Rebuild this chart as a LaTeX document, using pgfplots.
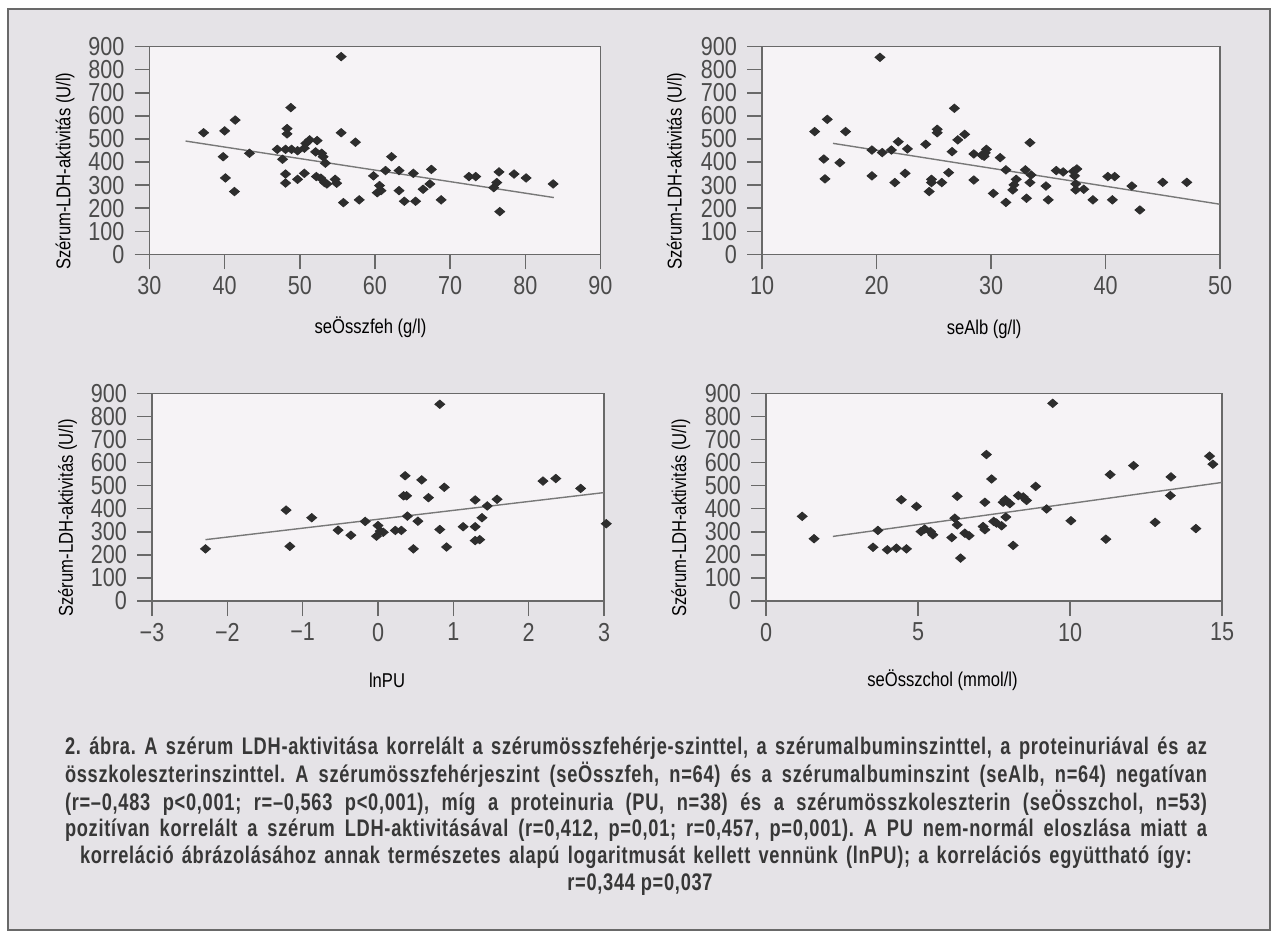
\documentclass[border=0pt]{standalone}
\usepackage{pgfplots}
\pgfplotsset{compat=1.18}
\usepackage{fontspec}
\setmainfont{Liberation Sans}[FakeStretch=0.83]
\newfontfamily\capfont{Liberation Sans}[FakeStretch=0.76, LetterSpace=3]
\definecolor{bgc}{RGB}{229,227,231}
\definecolor{plotbg}{RGB}{246,243,246}
\definecolor{axc}{RGB}{105,105,105}
\definecolor{tickc}{RGB}{75,75,75}
\definecolor{markc}{RGB}{45,45,45}
\definecolor{linec}{RGB}{120,120,120}
\definecolor{capc}{RGB}{55,55,55}
\pgfplotsset{
  panel/.style={
    scale only axis, height=103.8pt,
    ymin=0, ymax=900, ytick={0,100,...,900},
    axis background/.style={fill=plotbg},
    axis line style={draw=axc, line width=0.7pt},
    every tick/.style={draw=axc, line width=0.7pt},
    tick align=outside, major tick length=7.5pt, tick pos=left,
    ticklabel style={font=\fontsize{13}{13}\selectfont, text=tickc},
    yticklabel style={xshift=-1.5pt},
    label style={font=\fontsize{11.6}{11.6}\selectfont, text=tickc},
    ylabel={Szérum-LDH-aktivitás (U/l)},
    every axis y label/.style={at={(axis description cs:-0.187,0.4)}, rotate=90, anchor=center},
    /pgf/number format/assume math mode=true,
    clip=false,
  },
  dots/.style={only marks, mark=square*, mark size=1.75pt,
    mark options={yscale=0.85, rotate=45, fill=markc, draw=markc}},
  reg/.style={no marks, draw=linec, line width=0.7pt},
}
\begin{document}
\frenchspacing
\begin{tikzpicture}
\fill[white] (0,0) rectangle (636pt,466pt);
\filldraw[fill=bgc, draw=axc, line width=1pt] (4pt,1pt) rectangle (635pt,461.5pt);

% Panel 1
\begin{axis}[panel, at={(74.75pt,338.85pt)}, anchor=south west, width=225.5pt,
  xmin=30, xmax=90, xtick={30,40,...,90},
  xlabel={seÖsszfeh (g/l)},
  every axis x label/.style={at={(axis description cs:0.49,-0.352)}, anchor=center}]
\addplot[dots] coordinates {(37.2,527) (40.0,535) (39.8,423) (40.1,331) (41.4,582) (41.3,272) (43.3,438) (47.0,455) (48.3,545) (48.3,522) (48.8,636) (47.7,412) (48.1,455) (48.9,455) (49.7,449) (48.1,348) (48.1,309) (49.7,325) (50.6,351) (50.6,460) (50.8,481) (51.3,496) (52.3,493) (52.1,444) (52.9,438) (53.1,423) (53.4,395) (52.2,337) (52.8,330) (53.3,311) (53.6,305) (54.7,325) (54.9,308) (55.5,857) (55.5,527) (55.8,224) (57.4,486) (57.9,236) (59.8,340) (60.6,298) (60.3,267) (60.8,276) (62.2,423) (61.4,363) (63.2,363) (63.2,276) (63.9,230) (65.4,230) (65.1,351) (66.4,282) (67.3,305) (67.5,368) (68.8,236) (72.5,337) (73.4,337) (75.8,289) (76.2,311) (76.5,357) (76.6,185) (78.5,348) (80.1,331) (83.7,305)};
\addplot[reg] coordinates {(34.8,491) (83.8,246)};
\end{axis}

% Panel 2
\begin{axis}[panel, at={(381pt,338.85pt)}, anchor=south west, width=229pt,
  xmin=10, xmax=50, xtick={10,20,...,50},
  xlabel={seAlb (g/l)},
  every axis x label/.style={at={(axis description cs:0.485,-0.36)}, anchor=center}]
\addplot[dots] coordinates {(14.6,532) (15.7,585) (15.4,413) (15.5,327) (16.8,397) (17.3,532) (20.3,854) (19.6,452) (19.6,340) (20.5,441) (21.3,452) (21.9,488) (21.6,311) (22.5,351) (22.7,457) (24.3,477) (25.3,542) (25.3,527) (24.6,272) (24.8,325) (24.8,311) (25.7,311) (26.3,354) (26.6,445) (26.8,633) (27.1,496) (27.7,520) (28.5,435) (28.5,322) (29.2,430) (29.5,440) (29.6,455) (29.4,425) (30.2,264) (30.8,419) (31.3,366) (31.3,225) (32.2,325) (32.0,301) (31.9,279) (33.0,366) (33.4,484) (33.1,243) (33.5,344) (33.4,311) (34.8,296) (35.0,236) (35.7,363) (36.3,357) (37.2,360) (37.5,370) (37.3,340) (37.4,305) (37.4,279) (38.1,282) (38.9,236) (40.2,337) (40.8,337) (40.6,236) (42.3,296) (43.0,192) (45.0,312) (47.1,312)};
\addplot[reg] coordinates {(16.2,481) (50,217)};
\end{axis}

% Panel 3
\begin{axis}[panel, at={(76pt,165.5pt)}, anchor=south west, width=226pt,
  xmin=-3, xmax=3, xtick={-3,-2,...,3}, xticklabels={−3,−2,−1,0,1,2,3},
  xlabel={lnPU},
  every axis x label/.style={at={(axis description cs:0.52,-0.383)}, anchor=center}]
\addplot[dots] coordinates {(-2.29,226) (-1.22,394) (-1.17,237) (-0.88,361) (-0.53,307) (-0.36,285) (-0.17,345) (0.0,327) (0.03,303) (0.07,298) (-0.02,281) (0.23,306) (0.31,306) (0.34,456) (0.38,456) (0.36,543) (0.39,368) (0.47,226) (0.53,346) (0.58,525) (0.67,448) (0.82,853) (0.82,310) (0.88,493) (0.91,234) (1.13,322) (1.29,438) (1.29,322) (1.29,262) (1.35,266) (1.38,361) (1.45,412) (1.58,441) (2.19,520) (2.36,531) (2.69,488) (3.03,335)};
\addplot[reg] coordinates {(-2.29,266) (3,470)};
\end{axis}

% Panel 4
\begin{axis}[panel, at={(383pt,165.5pt)}, anchor=south west, width=228pt,
  xmin=0, xmax=15, xtick={0,5,10,15},
  xlabel={seÖsszchol (mmol/l)},
  every axis x label/.style={at={(axis description cs:0.387,-0.383)}, anchor=center}]
\addplot[dots] coordinates {(1.19,367) (1.58,270) (3.52,233) (3.68,306) (3.99,222) (4.29,229) (4.62,226) (4.45,439) (4.95,410) (5.10,301) (5.22,312) (5.41,301) (5.49,287) (6.11,275) (6.21,359) (6.29,330) (6.29,454) (6.40,186) (6.54,294) (6.68,283) (7.14,323) (7.20,309) (7.20,428) (7.25,635) (7.42,529) (7.49,345) (7.58,338) (7.75,326) (7.80,428) (7.87,439) (8.02,422) (7.89,364) (8.13,241) (8.30,457) (8.46,451) (8.57,436) (8.87,497) (9.23,399) (9.43,857) (10.03,348) (11.18,268) (11.32,548) (12.09,587) (12.80,341) (13.30,457) (13.32,538) (14.14,314) (14.59,628) (14.70,593)};
\addplot[reg] coordinates {(2.2,280) (15,514)};
\end{axis}

% Caption
\begin{scope}[every node/.style={text=capc, inner sep=0pt, anchor=center,
    font=\capfont\bfseries\fontsize{12}{12}\selectfont}]
\node at (318pt,92pt) {\makebox[571pt][s]{2. ábra. A szérum LDH-aktivitása korrelált a szérumösszfehérje-szinttel, a szérumalbuminszinttel, a proteinuriával és az}};
\node at (318pt,78.5pt) {\makebox[571pt][s]{összkoleszterinszinttel. A szérumösszfehérjeszint (seÖsszfeh, n=64) és a szérumalbuminszint (seAlb, n=64) negatívan}};
\node at (318pt,64.5pt) {\makebox[571pt][s]{(r=–0,483 p<0,001; r=–0,563 p<0,001), míg a proteinuria (PU, n=38) és a szérumösszkoleszterin (seÖsszchol, n=53)}};
\node at (318pt,51pt) {\makebox[571pt][s]{pozitívan korrelált a szérum LDH-aktivitásával (r=0,412, p=0,01; r=0,457, p=0,001). A PU nem-normál eloszlása miatt a}};
\node at (318pt,37.5pt) {\makebox[556pt][s]{korreláció ábrázolásához annak természetes alapú logaritmusát kellett vennünk (lnPU); a korrelációs együttható így:}};
\node at (320pt,23.5pt) {r=0,344 p=0,037};
\end{scope}
\end{tikzpicture}
\end{document}
